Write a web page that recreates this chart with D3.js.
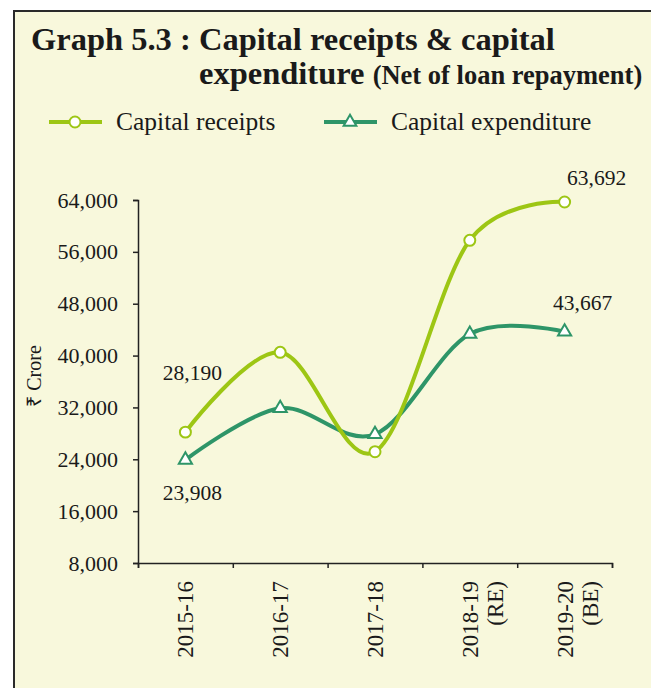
<!DOCTYPE html>
<html>
<head>
<meta charset="utf-8">
<script src="https://cdn.jsdelivr.net/npm/d3@7"></script>
<style>
  html, body { margin: 0; padding: 0; background: #fff; }
  svg { display: block; font-family: "Liberation Serif", "Times New Roman", serif; }
</style>
</head>
<body>
<svg id="chart" width="651" height="688"></svg>
<script>
// data
const years = ["2015-16", "2016-17", "2017-18", "2018-19\n(RE)", "2019-20\n(BE)"];
const receipts = [28190, 40500, 25170, 57780, 63692];
const expenditure = [23908, 31870, 27860, 43330, 43667];
const yTicks = [8000, 16000, 24000, 32000, 40000, 48000, 56000, 64000];

const crColor = "#9dc614";
const ceColor = "#2e9568";

const svg = d3.select("#chart");

// panel
svg.append("rect")
  .attr("x", 14).attr("y", 11)
  .attr("width", 700).attr("height", 700)
  .attr("fill", "#f8f8dc")
  .attr("stroke", "#2a2a2a")
  .attr("stroke-width", 2);

// title
svg.append("text")
  .attr("x", 31).attr("y", 50)
  .attr("font-size", 32.5).attr("font-weight", "bold").attr("fill", "#1a1a1a")
  .text("Graph 5.3 : Capital receipts & capital");
const t2 = svg.append("text")
  .attr("x", 199).attr("y", 84)
  .attr("font-weight", "bold").attr("fill", "#1a1a1a");
t2.append("tspan").attr("font-size", 32.5).text("expenditure ");
t2.append("tspan").attr("font-size", 26.5).text("(Net of loan repayment)");

// legend
const legend = [
  { name: "Capital receipts", color: crColor, sym: d3.symbolCircle, x: 49 },
  { name: "Capital expenditure", color: ceColor, sym: d3.symbolTriangle, x: 324 }
];
const lg = svg.selectAll("g.legend").data(legend).enter().append("g")
  .attr("class", "legend")
  .attr("transform", d => `translate(${d.x},122)`);
lg.append("line")
  .attr("x1", 0).attr("x2", 53).attr("y1", 0).attr("y2", 0)
  .attr("stroke", d => d.color).attr("stroke-width", 4);
lg.append("path")
  .attr("transform", "translate(26,0)")
  .attr("d", d => d3.symbol().type(d.sym).size(d.sym === d3.symbolCircle ? 95 : 70)())
  .attr("fill", "#fff").attr("stroke", d => d.color).attr("stroke-width", 2);
lg.append("text")
  .attr("x", 67).attr("y", 0).attr("dy", "0.33em")
  .attr("font-size", 25.5).attr("fill", "#1a1a1a")
  .text(d => d.name);

// scales
const x = d3.scaleBand().domain(years).range([138, 612]);
const xEdge = d3.scaleLinear().domain([0, years.length]).range([138, 612]);
const y = d3.scaleLinear().domain([8000, 64000]).range([563, 200]);

// y axis
const yAxis = svg.append("g")
  .attr("transform", "translate(138,0)")
  .call(d3.axisLeft(y).tickValues(yTicks).tickSize(5).tickPadding(15).tickFormat(d3.format(",")));
yAxis.select(".domain").attr("stroke", "#222").attr("stroke-width", 1.5);
yAxis.selectAll(".tick line").attr("stroke", "#222").attr("stroke-width", 1.5);
yAxis.selectAll(".tick text")
  .attr("font-family", "Liberation Serif, serif").attr("font-size", 22).attr("fill", "#1a1a1a");

// x axis (ticks on category edges)
const xAxis = svg.append("g")
  .attr("transform", "translate(0,563)")
  .call(d3.axisBottom(xEdge).tickValues(d3.range(years.length + 1)).tickSize(5).tickFormat(""));
xAxis.select(".domain").attr("stroke", "#222").attr("stroke-width", 1.5);
xAxis.selectAll(".tick line").attr("stroke", "#222").attr("stroke-width", 1.5);

// rotated category labels
const xl = svg.selectAll("text.xlab").data(years).enter().append("text")
  .attr("class", "xlab")
  .attr("transform", d => `translate(${x(d) + x.bandwidth() / 2},581) rotate(-90)`)
  .attr("text-anchor", "end")
  .attr("font-size", 23).attr("fill", "#1a1a1a");
xl.selectAll("tspan").data(d => d.split("\n")).enter().append("tspan")
  .attr("x", 0)
  .attr("y", (d, i) => i * 25)
  .attr("dy", "0.35em")
  .text(d => d);

// y axis title
svg.append("text")
  .attr("transform", "translate(41,376) rotate(-90)")
  .attr("text-anchor", "middle")
  .attr("font-size", 20).attr("fill", "#1a1a1a")
  .text("₹ Crore");

// lines
const series = [
  { name: "receipts", values: receipts, color: crColor, sym: d3.symbolCircle, size: 95 },
  { name: "expenditure", values: expenditure, color: ceColor, sym: d3.symbolTriangle, size: 75 }
];
const line = d3.line()
  .x((d, i) => x(years[i]) + x.bandwidth() / 2)
  .y(d => y(d))
  .curve(d3.curveCardinal.tension(0));

series.slice().reverse().forEach(s => {
  svg.append("path")
    .datum(s.values)
    .attr("fill", "none")
    .attr("stroke", s.color)
    .attr("stroke-width", 4)
    .attr("stroke-linecap", "round")
    .attr("d", line);
});
series.forEach(s => {
  svg.selectAll(null).data(s.values).enter().append("path")
    .attr("transform", (d, i) => `translate(${x(years[i]) + x.bandwidth() / 2},${y(d)})`)
    .attr("d", d3.symbol().type(s.sym).size(s.size)())
    .attr("fill", "#fff")
    .attr("stroke", s.color)
    .attr("stroke-width", 2);
});

// value labels on first and last points
const fmt = d3.format(",");
const labels = [
  { v: receipts, i: 0, dx: 7, dy: -52 },
  { v: expenditure, i: 0, dx: 7, dy: 40 },
  { v: receipts, i: 4, dx: 32, dy: -17 },
  { v: expenditure, i: 4, dx: 18, dy: -22 }
];
svg.selectAll("text.vlab").data(labels).enter().append("text")
  .attr("class", "vlab")
  .attr("x", d => x(years[d.i]) + x.bandwidth() / 2 + d.dx)
  .attr("y", d => y(d.v[d.i]) + d.dy)
  .attr("text-anchor", "middle")
  .attr("font-size", 21.5).attr("fill", "#1a1a1a")
  .text(d => fmt(d.v[d.i]));
</script>
</body>
</html>
